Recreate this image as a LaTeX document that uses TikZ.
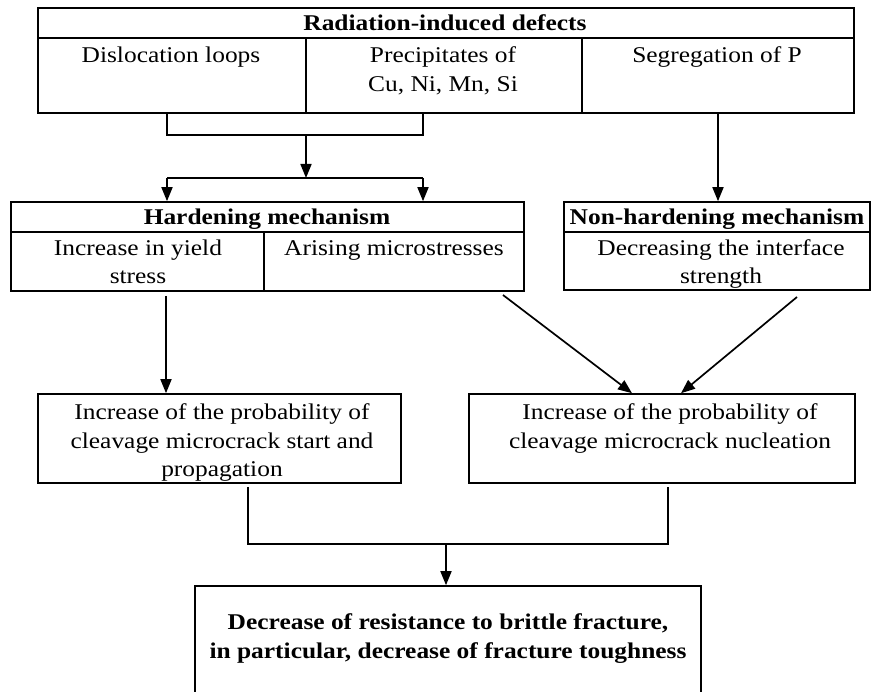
\documentclass[tikz,border=0pt]{standalone}
\usepackage{fontspec}
\setmainfont{Liberation Serif}[FakeStretch=1.13]
\usetikzlibrary{arrows.meta}

\begin{document}
\begin{tikzpicture}[x=1pt,y=1pt,yscale=-1,
  cell/.style args={#1/#2}{draw, line width=1.6pt, inner sep=0pt, minimum width=#1pt, minimum height=#2pt},
  txt/.style={anchor=base, inner sep=0pt, align=center, font=\fontsize{22.5}{28.5}\selectfont},
  hd/.style={txt, font=\bfseries\fontsize{22.5}{30}\selectfont},
  conn/.style={line width=1.7pt},
  flow/.style={conn, -{Triangle[length=14pt,width=11pt]}}]
\fill[white] (0,0) rectangle (871,692);
\useasboundingbox (0,0) rectangle (871,692);

%Shape: Rectangle (defects)
\node[cell=816/30] (rdt) at (446,23) {};
\node[cell=268/75] (loops) at (172,75.5) {};
\node[cell=276/75] (prec) at (444,75.5) {};
\node[cell=272/75] (segr) at (718,75.5) {};
%Shape: Rectangle (hardening)
\node[cell=513/30] (hardt) at (267.5,217) {};
\node[cell=253/59] (yield) at (137.5,261.5) {};
\node[cell=260/59] (micro) at (394,261.5) {};
%Shape: Rectangle (non-hardening)
\node[cell=306/30] (nonht) at (717,217) {};
\node[cell=306/58] (iface) at (717,261) {};
%Shape: Rectangle (probability)
\node[cell=363/89] (crackstart) at (219.5,438.5) {};
\node[cell=386/89] (nucl) at (662,438.5) {};
%Shape: Rectangle (result)
\node[cell=506/110] (fract) at (448,641) {};

% Text Node (base = last line)
\node[hd] (rdttxt) at (445,31) {Radiation-induced defects};
\node[txt] (loopstxt) at (171,63) {Dislocation loops};
\node[txt] (prectxt) at (443,91.5) {Precipitates of\\Cu, Ni, Mn, Si};
\node[txt] (segrtxt) at (717,63) {Segregation of P};
\node[hd] (hardtxt) at (267,225) {Hardening mechanism};
\node[txt] (yieldtxt) at (138,284) {Increase in yield\\stress};
\node[txt] (microtxt) at (394,255.5) {Arising microstresses};
\node[hd] (nonhtxt) at (717,225) {Non-hardening mechanism};
\node[txt] (ifacetxt) at (721,284) {Decreasing the interface\\strength};
\node[txt] (crackstarttxt) at (222,477) {Increase of the probability of\\cleavage microcrack start and\\propagation};
\node[txt] (nucltxt) at (670,448.5) {Increase of the probability of\\cleavage microcrack nucleation};
\node[hd] (fracttxt) at (448,659) {Decrease of resistance to brittle fracture,\\in particular, decrease of fracture toughness};

\coordinate (j1) at (306,135);
\coordinate (j2) at (306,178);
\coordinate (hl) at (167,178);
\coordinate (hr) at (423,178);
\coordinate (s1) at (166,296);
\coordinate (s2) at (503,295);
\coordinate (s3) at (797,297);
\coordinate (b1) at (248,487);
\coordinate (b2) at (668,487);
\coordinate (j3) at (446,544);

%Straight Lines
\draw[conn] (loops.south -| hl) |- (j1) -| (prec.south -| hr);
\draw[flow] (j1) -- (j2);
\draw[conn] (hl) -- (hr);
\draw[flow] (hl) -- (hl |- hardt.north);
\draw[flow] (hr) -- (hr |- hardt.north);
\draw[flow] (segr.south) -- (segr.south |- nonht.north);
\draw[flow] (s1) -- (s1 |- crackstart.north);
\draw[flow] (s2) -- ([xshift=-30pt]nucl.north);
\draw[flow] (s3) -- ([xshift=19pt]nucl.north);
\draw[conn] (b1) |- (j3) -| (b2);
\draw[flow] (j3) -- (j3 |- fract.north);

\end{tikzpicture}
\end{document}
